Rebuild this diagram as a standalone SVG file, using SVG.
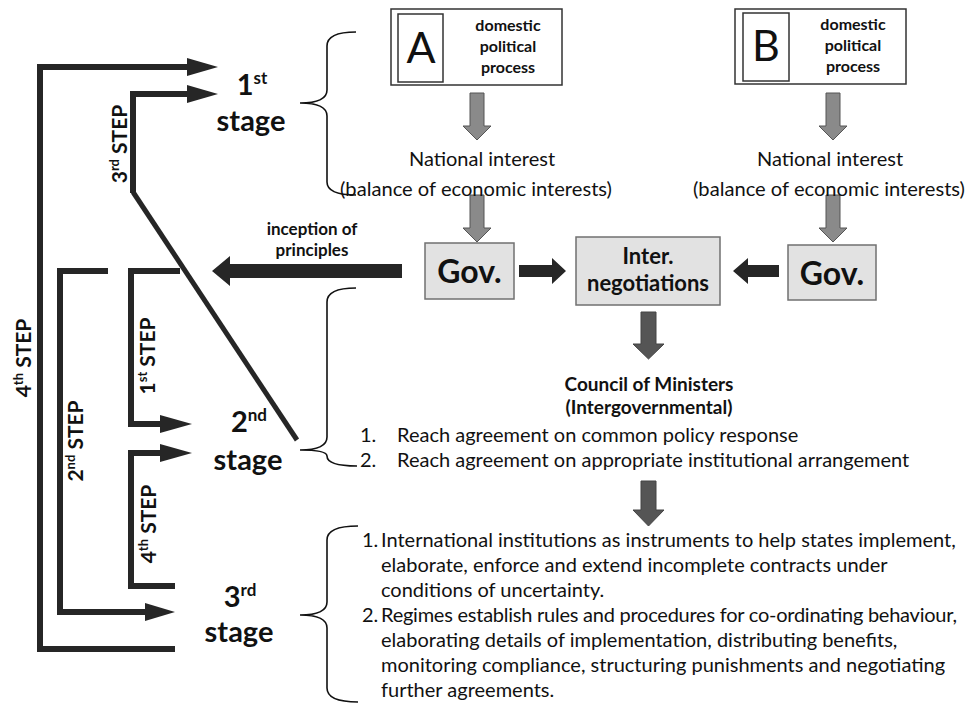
<svg xmlns="http://www.w3.org/2000/svg" width="970" height="707" viewBox="0 0 970 707">
<style>
text{font-family:Lato,"Liberation Sans",sans-serif;fill:#111}
.b{font-weight:bold}
.stage{font-weight:bold;font-size:29px;text-anchor:middle}
.step{font-weight:bold;font-size:21px;text-anchor:middle}
.ni{font-size:20px;text-anchor:middle}
.body{font-size:20px}
.dom{font-weight:bold;font-size:16px;text-anchor:middle}
.box{fill:#e2e2e2;stroke:#707070;stroke-width:1.5}
.wbox{fill:#fff;stroke:#333;stroke-width:1.5}
.gray{fill:#8a8a8a;stroke:#555;stroke-width:1}
.dark{fill:#262626}
.mid{fill:#555;stroke:#444;stroke-width:1}
.ln{fill:none;stroke:#262626;stroke-width:6;stroke-linejoin:miter}
.brace{fill:none;stroke:#111;stroke-width:1.6}
</style>
<rect width="970" height="707" fill="#fff"/>

<g id="connectors">
  <!-- 4th STEP outer -->
  <path class="ln" d="M175,649 L40,649 L40,67 L190,67"/>
  <polygon class="dark" points="187,58 218,67 187,76"/>
  <!-- 3rd STEP -->
  <path class="ln" d="M133,193 L133,94 L190,94"/>
  <polygon class="dark" points="187,85 218,94 187,103"/>
  <path class="ln" d="M133,192 L297,440" style="stroke-width:5"/>
  <!-- 2nd STEP -->
  <path class="ln" d="M108,271 L60,271 L60,612 L148,612"/>
  <polygon class="dark" points="145,603 175,612 145,621"/>
  <!-- 1st STEP -->
  <path class="ln" d="M180,271 L131,271 L131,424 L163,424"/>
  <polygon class="dark" points="160,415 192,424 160,433"/>
  <!-- 4th STEP inner -->
  <path class="ln" d="M175,586 L131,586 L131,453 L163,453"/>
  <polygon class="dark" points="160,444 192,453 160,462"/>
  <!-- inception of principles -->
  <polygon class="dark" points="402,264 230,264 230,256 212,271 230,286 230,278 402,278"/>
  <!-- gray arrows -->
  <polygon class="gray" points="470,93 484,93 484,126 491,126 477,140 463,126 470,126"/>
  <polygon class="gray" points="470,195 484,195 484,228 491,228 477,242 463,228 470,228"/>
  <polygon class="gray" points="826,93 840,93 840,126 847,126 833,140 819,126 826,126"/>
  <polygon class="gray" points="826,195 840,195 840,228 847,228 833,242 819,228 826,228"/>
  <!-- Gov to Inter -->
  <polygon class="dark" points="519,265 552,265 552,258 566,271 552,284 552,277 519,277"/>
  <polygon class="dark" points="779,265 748,265 748,258 733,271 748,284 748,277 779,277"/>
  <!-- down arrows -->
  <polygon class="mid" points="641,312 656,312 656,344 664,344 648.5,359 633,344 641,344"/>
  <polygon class="mid" points="641,481 656,481 656,510 664,510 648.5,526 633,510 641,510"/>
</g>

<g id="step-labels">
  <text class="step" transform="translate(31,358) rotate(-90)">4<tspan font-size="13" dy="-8">th</tspan><tspan dy="8"> STEP</tspan></text>
  <text class="step" transform="translate(127,144) rotate(-90)">3<tspan font-size="13" dy="-8">rd</tspan><tspan dy="8"> STEP</tspan></text>
  <text class="step" transform="translate(155,356) rotate(-90)">1<tspan font-size="13" dy="-8">st</tspan><tspan dy="8"> STEP</tspan></text>
  <text class="step" transform="translate(83,441) rotate(-90)">2<tspan font-size="13" dy="-8">nd</tspan><tspan dy="8"> STEP</tspan></text>
  <text class="step" transform="translate(156,524) rotate(-90)">4<tspan font-size="13" dy="-8">th</tspan><tspan dy="8"> STEP</tspan></text>
</g>

<g id="stage1">
  <text class="stage" x="252" y="95">1<tspan font-size="17" dy="-11">st</tspan></text>
  <text class="stage" x="251" y="131">stage</text>
  <path class="brace" d="M356,32 Q327,32 327,46 L327,90 Q327,103 300,103 Q327,103 327,116 L327,182 Q327,195 356,195"/>
</g>

<g id="stage2">
  <text class="stage" x="249" y="432">2<tspan font-size="17" dy="-11">nd</tspan></text>
  <text class="stage" x="248" y="470">stage</text>
  <path class="brace" d="M356,288 Q327,288 327,302 L327,437 Q327,450 300,450 Q327,450 327,456 Q327,466 357,466"/>
</g>

<g id="stage3">
  <text class="stage" x="240" y="607">3<tspan font-size="17" dy="-11">rd</tspan></text>
  <text class="stage" x="239" y="642">stage</text>
  <path class="brace" d="M358,526 Q327,526 327,540 L327,602 Q327,615 300,615 Q327,615 327,628 L327,688 Q327,702 358,702"/>
</g>

<g id="nodeA">
  <rect class="wbox" x="391" y="9" width="171" height="76"/>
  <rect class="wbox" x="398" y="14" width="45" height="68"/>
  <text x="421" y="63" font-size="43" text-anchor="middle">A</text>
  <text class="dom" x="508" y="31">domestic</text>
  <text class="dom" x="508" y="52">political</text>
  <text class="dom" x="508" y="73">process</text>
</g>

<g id="nodeB">
  <rect class="wbox" x="735" y="9" width="171" height="75"/>
  <rect class="wbox" x="743" y="13" width="46" height="68"/>
  <text x="766" y="61" font-size="43" text-anchor="middle">B</text>
  <text class="dom" x="853" y="30">domestic</text>
  <text class="dom" x="853" y="51">political</text>
  <text class="dom" x="853" y="72">process</text>
</g>

<g id="interestA">
  <text class="ni" x="482" y="166">National interest</text>
  <text class="ni" x="476" y="196" textLength="272" lengthAdjust="spacingAndGlyphs">(balance of economic interests)</text>
</g>

<g id="interestB">
  <text class="ni" x="830" y="166">National interest</text>
  <text class="ni" x="829" y="196" textLength="272" lengthAdjust="spacingAndGlyphs">(balance of economic interests)</text>
</g>

<g id="inception">
  <text class="b" x="312" y="235" font-size="17" text-anchor="middle">inception of</text>
  <text class="b" x="312" y="256" font-size="17" text-anchor="middle">principles</text>
</g>

<g id="govA">
  <rect class="box" x="425" y="243" width="89" height="56"/>
  <text class="b" x="469.5" y="283" font-size="32" text-anchor="middle">Gov.</text>
</g>

<g id="inter">
  <rect class="box" x="576" y="237" width="144" height="68"/>
  <text class="b" x="648" y="264" font-size="22" text-anchor="middle">Inter.</text>
  <text class="b" x="648" y="291" font-size="22" text-anchor="middle">negotiations</text>
</g>

<g id="govB">
  <rect class="box" x="788" y="245" width="88" height="55"/>
  <text class="b" x="832" y="285" font-size="32" text-anchor="middle">Gov.</text>
</g>

<g id="council">
  <text class="b" x="649" y="391" font-size="19" text-anchor="middle">Council of Ministers</text>
  <text class="b" x="649" y="414" font-size="19" text-anchor="middle">(Intergovernmental)</text>
  <text class="body" x="360" y="442">1.</text>
  <text class="body" x="397" y="442">Reach agreement on common policy response</text>
  <text class="body" x="360" y="467">2.</text>
  <text class="body" x="397" y="467">Reach agreement on appropriate institutional arrangement</text>
</g>

<g id="institutions">
  <text class="body" x="362" y="547">1.</text>
  <text class="body" x="381" y="547">International institutions as instruments to help states implement,</text>
  <text class="body" x="381" y="572">elaborate, enforce and extend incomplete contracts under</text>
  <text class="body" x="381" y="597">conditions of uncertainty.</text>
  <text class="body" x="362" y="622">2.</text>
  <text class="body" x="381" y="622" font-size="19" textLength="576">Regimes establish rules and procedures for co-ordinating behaviour,</text>
  <text class="body" x="381" y="647">elaborating details of implementation, distributing benefits,</text>
  <text class="body" x="381" y="672">monitoring compliance, structuring punishments and negotiating</text>
  <text class="body" x="381" y="697">further agreements.</text>
</g>
</svg>
